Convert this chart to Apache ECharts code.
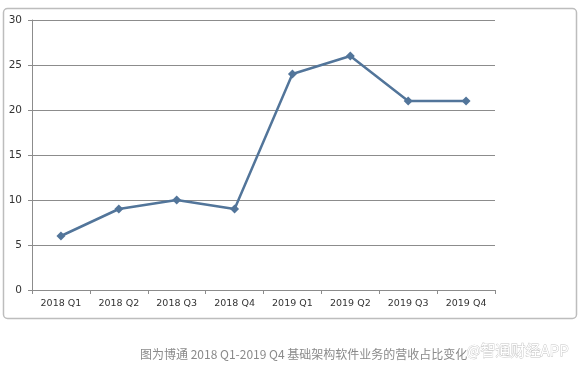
<!DOCTYPE html>
<html><head><meta charset="utf-8">
<script src="https://cdn.jsdelivr.net/npm/echarts@6/dist/echarts.min.js"></script>
<style>html,body{margin:0;padding:0;background:#fff}#c{width:582px;height:373px}</style>
</head><body><div id="c"></div>
<script>
const categories = ['2018 Q1','2018 Q2','2018 Q3','2018 Q4','2019 Q1','2019 Q2','2019 Q3','2019 Q4'];
const values = [6, 9, 10, 9, 24, 26, 21, 21];
const yTicks = [0, 5, 10, 15, 20, 25, 30];
const caption = '图为博通 2018 Q1-2019 Q4 基础架构软件业务的营收占比变化';
const watermark = '@智通财经APP';

const chart = echarts.init(document.getElementById('c'), null, {renderer:'canvas'});
chart.setOption({
  animation: false,
  backgroundColor: '#fff',
  graphic: [
    {type:'rect', shape:{x:3.5,y:8.5,width:573,height:310,r:4}, style:{fill:'#fff',stroke:'#bdbdbd',lineWidth:1.5}, z:-10},
    {type:'text', left:140, top:348, style:{text:caption, fill:'#8a8a8a', font:'12px "Noto Sans CJK SC", sans-serif'}},
    {type:'text', left:466, top:342, style:{text:watermark, fill:'#ffffff', stroke:'#c4c4c4', lineWidth:0.8, font:'15px "Noto Sans CJK SC", sans-serif'}}
  ],
  grid: {left:32, right:87, top:20, bottom:83, containLabel:false},
  xAxis: {
    type:'category', data:categories, boundaryGap:true,
    axisLine:{lineStyle:{color:'#8c8c8c',width:1}},
    axisTick:{show:true,length:4,alignWithLabel:false,lineStyle:{color:'#8c8c8c'}},
    axisLabel:{color:'#333',fontSize:9.5,fontFamily:'DejaVu Sans',margin:9}
  },
  yAxis: {
    type:'value', min:yTicks[0], max:yTicks[yTicks.length-1], interval:5,
    axisLine:{show:true,lineStyle:{color:'#8c8c8c',width:1}},
    axisTick:{show:true,length:4,lineStyle:{color:'#8c8c8c'}},
    axisLabel:{color:'#333',fontSize:10.5,fontFamily:'DejaVu Sans',margin:10},
    splitLine:{show:true,lineStyle:{color:'#8c8c8c',width:1}}
  },
  series: [{
    type:'line', data:values,
    symbol:'diamond', symbolSize:9,
    lineStyle:{color:'#52759a',width:2.5},
    itemStyle:{color:'#52759a'}
  }]
});
</script></body></html>
